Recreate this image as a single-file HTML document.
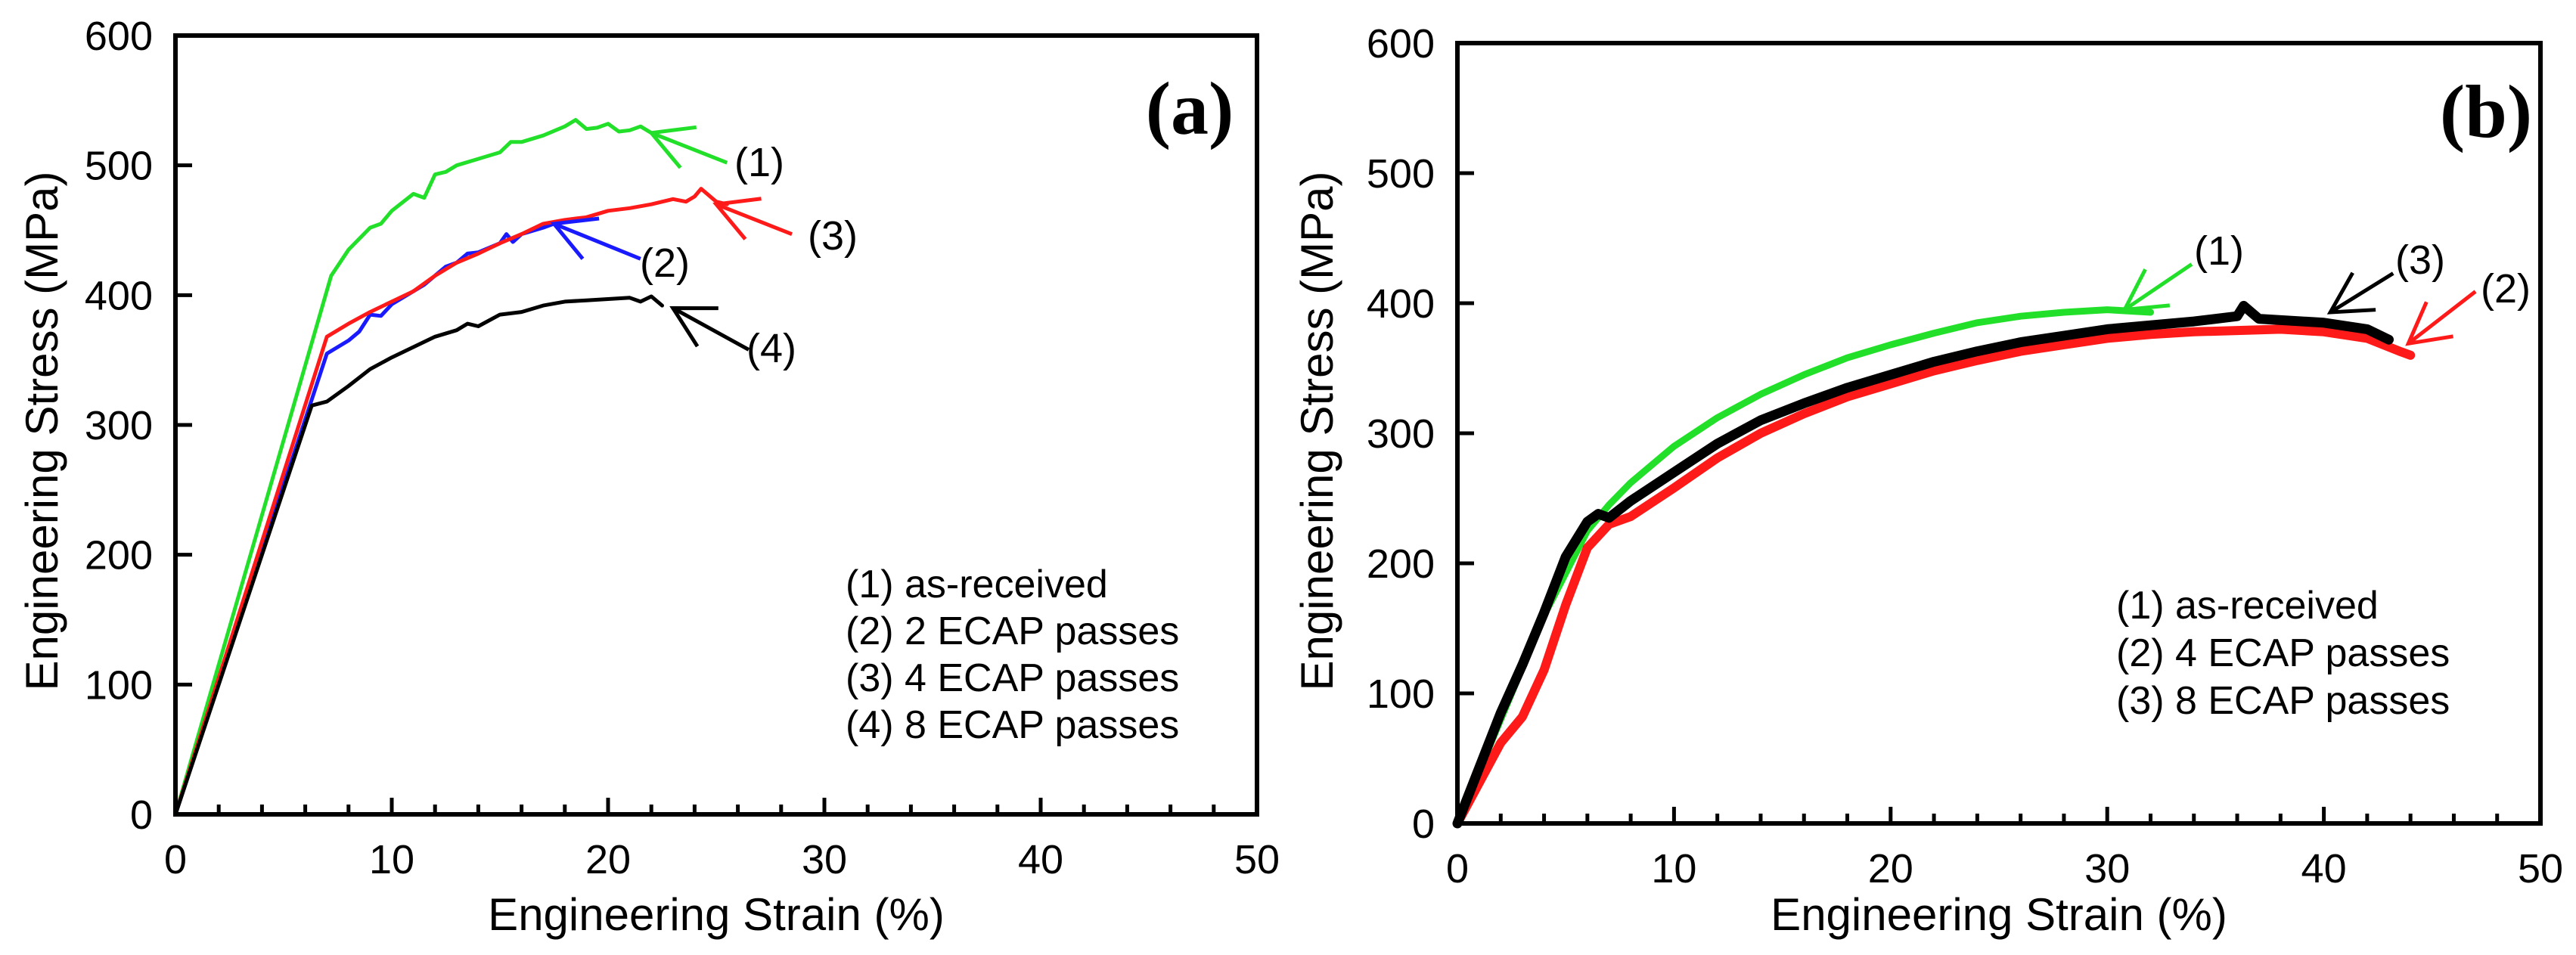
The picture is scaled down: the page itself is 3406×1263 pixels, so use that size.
<!DOCTYPE html>
<html><head><meta charset="utf-8"><style>
html,body{margin:0;padding:0;background:#fff;}
svg{display:block;}
text{font-family:"Liberation Sans",sans-serif;fill:#000;}
</style></head><body>
<svg id="fig" width="3406" height="1263" viewBox="0 0 3406 1263" xmlns="http://www.w3.org/2000/svg"></svg>
<script>
// ---------- data ----------
const xTicks = [0,10,20,30,40,50];
const yTicks = [0,100,200,300,400,500,600];
// panel (a)
const aGreenX = [0,7.2,8,9,9.5,10,11,11.5,12,12.5,13,14,15,15.5,16,17,18,18.5,19,19.5,20,20.5,21,21.5,22];
const aGreenY = [0,415,435,452,455,465,478,475,493,495,500,505,510,518,518,523,530,535,528,529,532,526,527,530,525];
const aBlueX = [0,7,8,8.5,9,9.5,10,11,11.5,12,12.5,13,13.5,14,15,15.3,15.6,16,17,17.5];
const aBlueY = [0,355,365,372,385,384,393,403,408,415,422,425,432,433,440,447,441,447,452,455];
const aRedX = [0,7,8,9,10,11,12,13,14,15,16,17,18,19,20,21,22,23,23.6,24,24.3,25,25.5];
const aRedY = [0,368,378,387,395,403,415,425,432,440,447,455,458,460,465,467,470,474,472,476,482,472,470];
const aBlackX = [0,6.3,7,8,9,10,11,12,13,13.5,14,15,16,17,18,19,20,21,21.5,22,22.5];
const aBlackY = [0,315,318,330,343,352,360,368,373,378,376,385,387,392,395,396,397,398,395,399,392];
// panel (b)
const bGreenX = [0,2,4,6,7,8,10,12,14,16,18,20,22,24,26,28,30,32];
const bGreenY = [0,80,160,225,245,262,290,312,330,345,358,368,377,385,390,393,395,393];
const bRedX = [0,2,3,4,5,6,7,8,10,12,14,16,18,20,22,24,26,28,30,32,34,36,38,40,42,43.5,44];
const bRedY = [0,62,82,118,168,212,230,236,258,281,300,315,328,338,348,356,363,368,373,376,378,379,380,378,373,363,360];
const bBlackX = [0,2,3,4,5,6,6.5,7,8,10,12,14,16,18,20,22,24,26,28,30,32,34,36,36.3,37,40,42,43];
const bBlackY = [0,85,122,162,205,232,238,235,248,270,292,310,323,335,345,355,363,370,375,380,383,386,390,398,388,385,380,372];

// ---------- helpers ----------
const NS = "http://www.w3.org/2000/svg";
const svg = document.getElementById('fig');
function el(tag, attrs, parent){
  const e = document.createElementNS(NS, tag);
  for (const k in attrs) e.setAttribute(k, attrs[k]);
  (parent||svg).appendChild(e);
  return e;
}
function makePanel(p){
  const sx = v => p.x0 + (p.x1 - p.x0) * v / 50;
  const sy = v => p.y0 - (p.y0 - p.y1) * v / 600;
  const g = el('g', {});
  
  
  for (let v = 0; v <= 50; v += 2) {
    const major = v % 10 === 0;
    const t = el('line', {x1:sx(v), x2:sx(v), y1:p.y0, y2:p.y0 - (major?22:13), stroke:'#000','stroke-width':5}, g);
    
    
  }
  yTicks.forEach(v => {
    const t = el('line', {x1:p.x0, x2:p.x0 + 22, y1:sy(v), y2:sy(v), stroke:'#000','stroke-width':5}, g);
    
    
    const tl = el('text', {x:p.x0 - 30, y:sy(v) + 19, 'font-size':54, 'text-anchor':'end'}, g);
    tl.textContent = v;
    
    
  });
  xTicks.forEach(v => {
    const tl = el('text', {x:sx(v), y:p.y0 + 78, 'font-size':54, 'text-anchor':'middle'}, g);
    tl.textContent = v;
    
    
  });
  p.series.forEach(s => {
    const d = s.xs.map((x,i) => (i ? 'L' : 'M') + sx(x).toFixed(1) + ' ' + sy(s.ys[i]).toFixed(1)).join(' ');
    const path = el('path', {d:d, fill:'none', stroke:s.color, 'stroke-width':s.w, 'stroke-linejoin':'round', 'stroke-linecap':'round'}, g);
    
    
  });
  const fr = el('rect', {x:p.x0, y:p.y1, width:p.x1 - p.x0, height:p.y0 - p.y1, fill:'none', stroke:'#000', 'stroke-width':6}, g);
  
  
  p.arrows.forEach(a => {
    const tx = sx(a.tip[0]), ty = sy(a.tip[1]), fx = sx(a.tail[0]), fy = sy(a.tail[1]);
    const ang = Math.atan2(fy - ty, fx - tx);
    const L = 60, sp = 0.5;
    const d = `M${fx} ${fy} L${tx} ${ty} M${tx + L*Math.cos(ang+sp)} ${ty + L*Math.sin(ang+sp)} L${tx} ${ty} L${tx + L*Math.cos(ang-sp)} ${ty + L*Math.sin(ang-sp)}`;
    const ar = el('path', {d:d, fill:'none', stroke:a.color, 'stroke-width':5}, g);
    
    
    const lb = el('text', {x:a.lx, y:a.ly + 20, 'font-size':54, 'text-anchor':'middle'}, g);
    lb.textContent = a.label;
    
    
  });
  p.legend.forEach((t,i) => {
    const lt = el('text', {x:p.legX, y:p.legY + i*p.legDy + 18, 'font-size':52}, g);
    lt.textContent = t;
    
    
  });
  const pl = el('text', {x:p.plX, y:p.plY + 32, 'font-size':100, 'font-weight':'bold', 'text-anchor':'middle', style:'font-family:"Liberation Serif",serif'}, g);
  pl.textContent = p.plText;
  
  
  const xt = el('text', {x:(p.x0 + p.x1)/2, y:1230, 'font-size':60, 'text-anchor':'middle'}, g);
  xt.textContent = 'Engineering Strain (%)';
  
  
  const yt = el('text', {x:0, y:0, 'font-size':60, 'text-anchor':'middle', transform:`translate(${p.ytX},${570}) rotate(-90)`}, g);
  yt.textContent = 'Engineering Stress (MPa)';
  
  
}

makePanel({
  name:'panel-a', x0:232, x1:1662, y0:1077, y1:47, ytX:76,
  series:[
    {name:'series-as-received', xs:aGreenX, ys:aGreenY, color:'#22e02a', w:5},
    {name:'series-2-ecap', xs:aBlueX, ys:aBlueY, color:'#1a1aff', w:5},
    {name:'series-4-ecap', xs:aRedX, ys:aRedY, color:'#ff1a1a', w:5},
    {name:'series-8-ecap', xs:aBlackX, ys:aBlackY, color:'#000', w:5}
  ],
  arrows:[
    {tail:[25.5,502], tip:[22,525], color:'#22e02a', label:'(1)', lx:1004, ly:213},
    {tail:[21.5,428], tip:[17.5,455], color:'#1a1aff', label:'(2)', lx:879, ly:346},
    {tail:[28.5,447], tip:[25,470], color:'#ff1a1a', label:'(3)', lx:1101, ly:310},
    {tail:[26.5,358], tip:[23,390], color:'#000', label:'(4)', lx:1020, ly:459}
  ],
  legend:['(1) as-received','(2) 2 ECAP passes','(3) 4 ECAP passes','(4) 8 ECAP passes'],
  legX:1118, legY:772, legDy:62, plX:1573, plY:145, plText:'(a)'
});
makePanel({
  name:'panel-b', x0:1927, x1:3359, y0:1089, y1:57, ytX:1762,
  series:[
    {name:'series-as-received', xs:bGreenX, ys:bGreenY, color:'#22e02a', w:9},
    {name:'series-4-ecap', xs:bRedX, ys:bRedY, color:'#ff1a1a', w:12},
    {name:'series-8-ecap', xs:bBlackX, ys:bBlackY, color:'#000', w:13}
  ],
  arrows:[
    {tail:[33.9,430], tip:[30.8,395], color:'#22e02a', label:'(1)', lx:2934, ly:330},
    {tail:[43.2,423], tip:[40.3,393], color:'#000', label:'(3)', lx:3200, ly:342},
    {tail:[47,409], tip:[43.9,369], color:'#ff1a1a', label:'(2)', lx:3313, ly:380}
  ],
  legend:['(1) as-received','(2) 4 ECAP passes','(3) 8 ECAP passes'],
  legX:2798, legY:800, legDy:63, plX:3287, plY:149, plText:'(b)'
});
</script>
</body></html>
